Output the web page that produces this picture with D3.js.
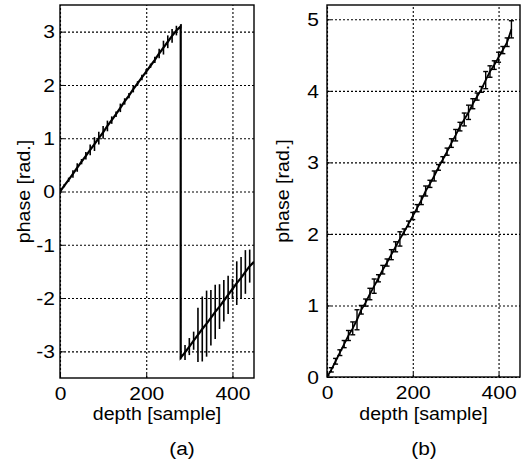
<!DOCTYPE html>
<html>
<head>
<meta charset="utf-8">
<script src="https://cdn.jsdelivr.net/npm/d3@7"></script>
<style>
  body { margin: 0; background: #fff; }
  text { font-family: "Liberation Sans", Arial, sans-serif; fill: #000; }
</style>
</head>
<body>
<div id="chart"></div>
<script>
// x ticks shared by both panels
const xTicks = [0, 200, 400];

// (a) wrapped phase, errors every 10 samples
const depthA = [0, 10, 20, 30, 40, 50, 60, 70, 80, 90, 100, 110, 120, 130, 140, 150, 160, 170, 180, 190,
  200, 210, 220, 230, 240, 250, 260, 270, 280,
  280, 290, 300, 310, 320, 330, 340, 350, 360, 370, 380, 390, 400, 410, 420, 430, 440, 450];
const phaseA = [0.00, 0.11, 0.22, 0.33, 0.45, 0.56, 0.67, 0.78, 0.89, 1.00, 1.11, 1.23, 1.34, 1.45, 1.57, 1.69, 1.80, 1.92, 2.03, 2.14,
  2.25, 2.36, 2.47, 2.59, 2.70, 2.81, 2.92, 3.02, 3.10,
  -3.12, -3.02, -2.91, -2.80, -2.69, -2.58, -2.48, -2.37, -2.26, -2.16, -2.05, -1.94, -1.83, -1.72, -1.62, -1.51, -1.40, -1.32];
const errA = [0.02, 0.03, 0.04, 0.07, 0.08, 0.05, 0.07, 0.10, 0.13, 0.12, 0.12, 0.10, 0.07, 0.05, 0.08, 0.06, 0.05, 0.06, 0.04, 0.05,
  0.05, 0.04, 0.06, 0.09, 0.13, 0.12, 0.13, 0.09, 0.04,
  0.03, 0.14, 0.16, 0.17, 0.51, 0.61, 0.62, 0.52, 0.51, 0.42, 0.39, 0.36, 0.19, 0.41, 0.39, 0.41, 0.31, 0];
const yTicksA = [-3, -2, -1, 0, 1, 2, 3];

// (b) unwrapped phase
const depthB = [0, 10, 20, 30, 40, 50, 60, 70, 80, 90, 100, 110, 120, 130, 140, 150, 160, 170, 180, 190,
  200, 210, 220, 230, 240, 250, 260, 270, 280, 290, 300, 310, 320, 330, 340, 350, 360, 370, 380, 390,
  400, 410, 420, 430];
const phaseB = [0.00, 0.10, 0.22, 0.34, 0.46, 0.58, 0.68, 0.80, 0.94, 1.04, 1.16, 1.27, 1.38, 1.50, 1.60, 1.71, 1.82, 1.93, 2.03, 2.14,
  2.25, 2.36, 2.47, 2.60, 2.70, 2.81, 2.93, 3.04, 3.15, 3.27, 3.38, 3.50, 3.60, 3.70, 3.82, 3.92, 4.02, 4.15, 4.27, 4.36,
  4.47, 4.57, 4.68, 4.86];
const errB = [0.02, 0.03, 0.04, 0.04, 0.05, 0.07, 0.09, 0.14, 0.06, 0.05, 0.08, 0.10, 0.05, 0.06, 0.05, 0.07, 0.07, 0.10, 0.04, 0.04,
  0.05, 0.05, 0.06, 0.07, 0.05, 0.07, 0.04, 0.04, 0.05, 0.06, 0.08, 0.06, 0.09, 0.10, 0.07, 0.05, 0.04, 0.12, 0.08, 0.06,
  0.07, 0.05, 0.06, 0.12];
const yTicksB = [0, 1, 2, 3, 4, 5];

const svg = d3.select('#chart').append('svg')
  .attr('width', 523)
  .attr('height', 466);

function drawPanel(p, idx) {
  const x = d3.scaleLinear().domain([0, 450]).range([p.left, p.right]);
  const y = d3.scaleLinear().domain(p.yDomain).range([p.bottom, p.top]);
  const g = svg.append('g');

  // dotted grid
  g.append('g')
    .attr('transform', `translate(${p.left},0)`)
    .call(d3.axisLeft(y).tickValues(p.yTicks).tickSize(-(p.right - p.left)).tickFormat(''))
    .call(s => s.select('.domain').remove());
  g.append('g')
    .attr('transform', `translate(0,${p.bottom})`)
    .call(d3.axisBottom(x).tickValues(xTicks).tickSize(-(p.bottom - p.top)).tickFormat(''))
    .call(s => s.select('.domain').remove());
  g.selectAll('.tick line')
    .attr('stroke', '#000')
    .attr('stroke-width', 1.1)
    .attr('stroke-dasharray', '2,2');

  // tick labels (inner tick marks, like matlab)
  const ya = g.append('g')
    .attr('transform', `translate(${p.left},0)`)
    .call(d3.axisLeft(y).tickValues(p.yTicks).tickSize(-4).tickFormat(d => String(d)));
  ya.select('.domain').remove();
  ya.selectAll('text')
    .attr('x', null).attr('dy', '0.36em')
    .attr('transform', `translate(${p.yLabelOff},0) scale(1.2,1)`)
    .style('font-size', '17.5px');

  const xa = g.append('g')
    .attr('transform', `translate(0,${p.bottom})`)
    .call(d3.axisBottom(x).tickValues(xTicks).tickSize(-4).tickFormat(d => String(d)));
  xa.select('.domain').remove();
  xa.selectAll('text')
    .attr('y', null).attr('dy', null)
    .attr('transform', 'translate(0,22) scale(1.2,1)')
    .style('font-size', '17.5px');
  g.selectAll('.tick text').attr('fill', '#000');
  ya.selectAll('.tick line').attr('stroke', '#000');
  xa.selectAll('.tick line').attr('stroke', '#000');

  // frame
  g.append('rect')
    .attr('x', p.left).attr('y', p.top)
    .attr('width', p.right - p.left).attr('height', p.bottom - p.top)
    .attr('fill', 'none').attr('stroke', '#000').attr('stroke-width', 1.4);

  // clip for data
  svg.append('clipPath').attr('id', 'clip' + idx)
    .append('rect')
    .attr('x', p.left).attr('y', p.top)
    .attr('width', p.right - p.left).attr('height', p.bottom - p.top);

  const pts = p.depth.map((d, i) => ({ d: d, v: p.phase[i], e: p.err[i] }));
  const plot = g.append('g').attr('clip-path', `url(#clip${idx})`);

  // error bars
  const bars = plot.selectAll('.eb')
    .data(pts.filter(o => o.e > 0))
    .enter().append('g')
    .attr('stroke', '#000')
    .attr('stroke-width', p.barW);
  bars.append('line')
    .attr('x1', o => x(o.d)).attr('x2', o => x(o.d))
    .attr('y1', o => y(o.v - o.e)).attr('y2', o => y(o.v + o.e));
  if (p.cap > 0) {
    bars.append('line')
      .attr('x1', o => x(o.d) - p.cap / 2).attr('x2', o => x(o.d) + p.cap / 2)
      .attr('y1', o => y(o.v - o.e)).attr('y2', o => y(o.v - o.e));
    bars.append('line')
      .attr('x1', o => x(o.d) - p.cap / 2).attr('x2', o => x(o.d) + p.cap / 2)
      .attr('y1', o => y(o.v + o.e)).attr('y2', o => y(o.v + o.e));
  }

  // phase line
  plot.append('path')
    .datum(pts)
    .attr('fill', 'none')
    .attr('stroke', '#000')
    .attr('stroke-width', p.lineW)
    .attr('d', d3.line().x(o => x(o.d)).y(o => y(o.v)));

  // axis titles
  const cx = (p.left + p.right) / 2;
  g.append('text')
    .attr('transform', `translate(${cx},420) scale(1.12,1)`)
    .attr('text-anchor', 'middle')
    .style('font-size', '17.5px')
    .text('depth [sample]');
  g.append('text')
    .attr('transform', `translate(${p.yTitleX},${(p.top + p.bottom) / 2}) rotate(-90) scale(1.12,1)`)
    .attr('text-anchor', 'middle')
    .style('font-size', '17.5px')
    .text('phase [rad.]');
  g.append('text')
    .attr('transform', `translate(${p.tagX},455) scale(1.1,1)`)
    .attr('text-anchor', 'middle')
    .style('font-size', '19px')
    .text(p.tag);
}

drawPanel({
  left: 60, right: 254, top: 5, bottom: 378, yDomain: [-3.5, 3.5], yTicks: yTicksA,
  depth: depthA, phase: phaseA, err: errA, cap: 0, barW: 1.6, lineW: 2.2,
  yLabelOff: -5, yTitleX: 30, tag: '(a)', tagX: 182
}, 0);

drawPanel({
  left: 327, right: 520, top: 5, bottom: 377, yDomain: [0, 5.2], yTicks: yTicksB,
  depth: depthB, phase: phaseB, err: errB, cap: 5, barW: 1.4, lineW: 1.8,
  yLabelOff: -8, yTitleX: 289, tag: '(b)', tagX: 424
}, 1);
</script>
</body>
</html>
